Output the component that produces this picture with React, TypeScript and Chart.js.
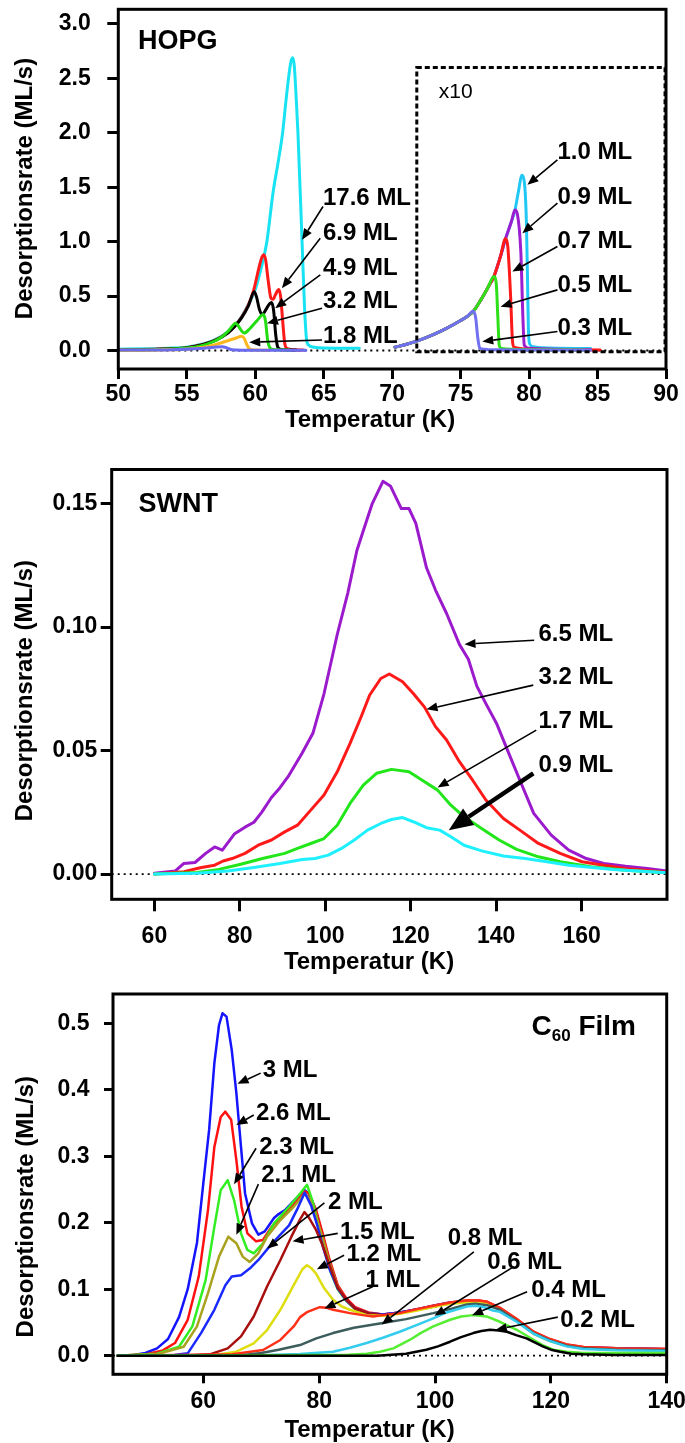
import React, { useEffect, useRef } from "react";
import { Chart, registerables } from "chart.js";

Chart.register(...registerables);

type Pt = [number, number];
const FONT = '"Liberation Sans", Arial, Helvetica, sans-serif';
const W = 685;

// ======================= Panel 1: HOPG =======================
const hopgXTicks = [50, 55, 60, 65, 70, 75, 80, 85, 90];
const hopgYTicks = [0, 0.5, 1.0, 1.5, 2.0, 2.5, 3.0];

const hopg_17_6: Pt[] = [[50, 0.012], [52, 0.015], [54, 0.022], [55, 0.03], [56, 0.055], [57, 0.095], [58, 0.17], [58.5, 0.23], [59, 0.31], [59.5, 0.42], [60, 0.56], [60.4, 0.74], [60.85, 1.0], [61.3, 1.45], [61.7, 1.75], [62.0, 2.0], [62.25, 2.3], [62.45, 2.52], [62.6, 2.65], [62.73, 2.69], [62.85, 2.62], [63.0, 2.3], [63.12, 2.0], [63.42, 1.0], [63.6, 0.4], [63.75, 0.1], [63.9, 0.05], [64.3, 0.03], [65, 0.022], [67.6, 0.02]];
const hopg_6_9: Pt[] = [[50, 0.006], [53, 0.013], [55, 0.026], [56, 0.05], [57, 0.09], [58, 0.165], [58.5, 0.225], [59, 0.305], [59.5, 0.42], [59.9, 0.56], [60.27, 0.76], [60.5, 0.86], [60.62, 0.88], [60.75, 0.84], [60.95, 0.64], [61.15, 0.48], [61.3, 0.47], [61.5, 0.52], [61.72, 0.56], [61.85, 0.5], [62.0, 0.28], [62.15, 0.07], [62.3, 0.02], [62.8, 0.006], [63.5, 0.004]];
const hopg_4_9: Pt[] = [[50, 0.005], [53, 0.012], [55, 0.025], [56, 0.048], [57, 0.088], [58, 0.16], [58.5, 0.22], [59, 0.3], [59.5, 0.41], [59.93, 0.54], [60.1, 0.49], [60.3, 0.38], [60.5, 0.33], [60.8, 0.38], [61.05, 0.43], [61.2, 0.44], [61.35, 0.36], [61.5, 0.14], [61.65, 0.03], [61.9, 0.01], [63, 0.005]];
const hopg_3_2: Pt[] = [[50, 0.004], [53, 0.01], [55, 0.022], [56, 0.042], [57, 0.085], [57.5, 0.12], [58, 0.175], [58.3, 0.22], [58.54, 0.25], [58.75, 0.23], [59.0, 0.18], [59.2, 0.16], [59.6, 0.2], [60.1, 0.27], [60.6, 0.33], [60.75, 0.27], [60.9, 0.1], [61.05, 0.03], [61.3, 0.01], [62.5, 0.005]];
const hopg_1_8: Pt[] = [[50, 0.002], [53, 0.005], [55, 0.012], [56, 0.025], [57, 0.05], [58, 0.09], [58.6, 0.115], [59.0, 0.13], [59.2, 0.11], [59.4, 0.05], [59.6, 0.012], [60, 0.004], [61, 0.002]];
const hopg_low: Pt[] = [[50, 0.004], [54, 0.008], [56, 0.018], [57, 0.03], [57.6, 0.035], [58, 0.02], [58.3, 0.006], [59, 0.003], [63.7, 0.003]];
// x10 magnified curves
const hopg_x10_1_0: Pt[] = [[70.2, 0.03], [71, 0.055], [72, 0.095], [73, 0.145], [74, 0.205], [75, 0.275], [75.5, 0.315], [75.93, 0.36], [76.5, 0.47], [77, 0.58], [77.43, 0.68], [77.9, 0.86], [78.29, 1.03], [78.7, 1.18], [78.97, 1.29], [79.25, 1.48], [79.46, 1.61], [79.65, 1.55], [79.8, 1.2], [79.88, 0.7], [79.95, 0.2], [80.05, 0.06], [80.3, 0.035], [81, 0.025], [84.5, 0.018]];
const hopg_x10_0_9: Pt[] = [[70.2, 0.03], [71, 0.055], [72, 0.095], [73, 0.145], [74, 0.205], [75, 0.275], [75.5, 0.315], [75.93, 0.36], [76.5, 0.47], [77, 0.58], [77.43, 0.68], [77.9, 0.86], [78.29, 1.03], [78.7, 1.18], [78.97, 1.29], [79.15, 1.25], [79.4, 0.9], [79.55, 0.3], [79.65, 0.05], [80, 0.02], [84.5, 0.006]];
const hopg_x10_0_7: Pt[] = [[70.2, 0.03], [71, 0.055], [72, 0.095], [73, 0.145], [74, 0.205], [75, 0.275], [75.5, 0.315], [75.93, 0.36], [76.5, 0.47], [77, 0.58], [77.43, 0.68], [77.9, 0.86], [78.29, 1.03], [78.45, 0.95], [78.65, 0.5], [78.78, 0.1], [78.9, 0.03], [80, 0.012], [85.2, 0.005]];
const hopg_x10_0_5: Pt[] = [[70.2, 0.03], [71, 0.055], [72, 0.095], [73, 0.145], [74, 0.205], [75, 0.275], [75.5, 0.315], [75.93, 0.36], [76.5, 0.47], [77, 0.58], [77.43, 0.68], [77.6, 0.62], [77.72, 0.3], [77.82, 0.05], [78, 0.018], [80, 0.008], [84, 0.005]];
const hopg_x10_0_3: Pt[] = [[70.2, 0.03], [71, 0.055], [72, 0.095], [73, 0.145], [74, 0.205], [75, 0.275], [75.5, 0.315], [75.93, 0.36], [76.1, 0.3], [76.25, 0.12], [76.4, 0.02], [77, 0.008], [80, 0.005], [84.5, 0.005]];

// ======================= Panel 2: SWNT =======================
const swntXTicks = [60, 80, 100, 120, 140, 160];
const swntYTicks = [0, 0.05, 0.1, 0.15];

const swnt_6_5: Pt[] = [[60, 0.0003], [64.9, 0.0013], [66.9, 0.0043], [69.5, 0.0047], [72, 0.0084], [74.1, 0.011], [75.9, 0.0097], [78.7, 0.0162], [81.2, 0.019], [83.3, 0.021], [85.1, 0.025], [87.4, 0.031], [89.4, 0.035], [91.5, 0.04], [94.6, 0.049], [97.1, 0.057], [99.7, 0.073], [102.8, 0.097], [105.3, 0.114], [107.4, 0.131], [108.9, 0.139], [111, 0.15], [113.5, 0.159], [115.3, 0.157], [117.8, 0.148], [119.6, 0.148], [121.2, 0.142], [123.7, 0.124], [125.8, 0.115], [128.4, 0.1055], [131.4, 0.093], [133.5, 0.087], [135.5, 0.076], [137.6, 0.069], [140.1, 0.061], [142.7, 0.05], [145.8, 0.037], [148.8, 0.0246], [152.9, 0.0158], [157, 0.0097], [161.1, 0.0063], [165.2, 0.0043], [170.3, 0.0032], [175.4, 0.0023], [180, 0.0013]];
const swnt_3_2: Pt[] = [[60, 0], [66.9, 0.001], [71, 0.0027], [74.1, 0.0036], [76.1, 0.0053], [78.2, 0.0063], [81.2, 0.0084], [84.3, 0.0117], [87.4, 0.0138], [90.5, 0.0171], [93.5, 0.0198], [96.6, 0.0259], [99.7, 0.032], [102.8, 0.0414], [105.8, 0.0529], [108.4, 0.0637], [110.4, 0.0725], [113, 0.0792], [115, 0.081], [118.1, 0.0779], [120.6, 0.0731], [123.2, 0.0677], [125.8, 0.0597], [128.4, 0.0543], [131.4, 0.0455], [134.5, 0.038], [137.6, 0.03], [141.7, 0.0225], [145.8, 0.0175], [149.9, 0.0124], [155, 0.0084], [160.1, 0.005], [165.2, 0.0036], [170.3, 0.0023], [180, 0.0007]];
const swnt_1_7: Pt[] = [[60, 0], [70, 0.0007], [75.1, 0.0019], [80.2, 0.004], [85.3, 0.0063], [90.5, 0.0084], [93.5, 0.0104], [96.6, 0.0124], [99.7, 0.0144], [102.8, 0.0198], [105.8, 0.0286], [108.9, 0.036], [112, 0.0408], [115.5, 0.0424], [119.6, 0.0414], [122.7, 0.038], [126.3, 0.034], [129.4, 0.0279], [132.5, 0.0232], [136.6, 0.0185], [140.7, 0.0138], [144.8, 0.01], [149.9, 0.007], [155, 0.005], [162.2, 0.003], [170.3, 0.0016], [180, 0.0005]];
const swnt_0_9: Pt[] = [[60, 0], [70, 0.0003], [77.2, 0.0013], [83.3, 0.0027], [89.4, 0.0043], [94.6, 0.0059], [97.6, 0.0063], [100.7, 0.0077], [103.8, 0.0104], [106.8, 0.0138], [109.9, 0.0178], [113, 0.0205], [115.5, 0.0221], [118.1, 0.0229], [120.6, 0.0212], [123.7, 0.0188], [126.8, 0.0178], [129.4, 0.0151], [132.5, 0.0117], [136.6, 0.0094], [141.7, 0.0073], [146.8, 0.0063], [151.9, 0.005], [157, 0.0036], [167.3, 0.0019], [180, 0.0005]];

// ======================= Panel 3: C60 film =======================
const c60XTicks = [60, 80, 100, 120, 140];
const c60YTicks = [0, 0.1, 0.2, 0.3, 0.4, 0.5];

const c60_3_0: Pt[] = [[45.2, 0], [48, 0.001], [50, 0.004], [52, 0.011], [53.9, 0.025], [55.8, 0.058], [57.3, 0.1], [58.9, 0.17], [60, 0.26], [61, 0.34], [61.9, 0.44], [62.7, 0.497], [63.3, 0.515], [64, 0.51], [64.9, 0.46], [65.7, 0.395], [66.5, 0.314], [67.2, 0.244], [68.4, 0.199], [69.5, 0.182], [70.6, 0.187], [72.2, 0.207], [73, 0.213], [74.1, 0.219], [75.2, 0.229], [76.3, 0.239], [77.5, 0.249], [78.2, 0.244], [79.4, 0.219], [80.5, 0.184], [81.7, 0.144], [83.2, 0.104], [84.7, 0.084], [86.2, 0.071], [88.5, 0.064], [91, 0.062], [93.9, 0.065], [96.9, 0.069], [99.7, 0.074], [102.6, 0.079], [105.5, 0.082], [107.5, 0.082], [109, 0.08], [111.2, 0.071], [114.1, 0.054], [117, 0.035], [119.8, 0.024], [122.7, 0.016], [125.6, 0.012], [131.3, 0.011], [140, 0.0095]];
const c60_2_6: Pt[] = [[45.2, 0], [50, 0.002], [53, 0.008], [55.1, 0.019], [57.3, 0.054], [59.2, 0.119], [60.8, 0.219], [61.9, 0.314], [63, 0.359], [63.8, 0.367], [64.8, 0.355], [65.7, 0.294], [66.6, 0.224], [67.6, 0.184], [69.1, 0.172], [70.3, 0.174], [71.8, 0.194], [73, 0.205], [74.1, 0.214], [76.3, 0.234], [77.5, 0.247], [78.2, 0.244], [79.4, 0.221], [80.5, 0.187], [81.7, 0.147], [83.2, 0.106], [84.7, 0.086], [86.2, 0.073], [88.5, 0.065], [91, 0.062], [93.9, 0.065], [96.9, 0.07], [99.7, 0.075], [102.6, 0.08], [105.5, 0.083], [107.5, 0.083], [109, 0.081], [111.2, 0.072], [114.1, 0.055], [117, 0.036], [119.8, 0.025], [122.7, 0.017], [125.6, 0.013], [131.3, 0.011], [140, 0.01]];
const c60_2_3: Pt[] = [[45.2, 0], [52, 0.003], [55.8, 0.0135], [58.1, 0.044], [60.4, 0.114], [61.9, 0.194], [63, 0.249], [64.2, 0.264], [65.3, 0.234], [66.5, 0.184], [67.6, 0.159], [68.7, 0.154], [70.3, 0.169], [72.2, 0.199], [74.8, 0.224], [76.7, 0.244], [77.9, 0.257], [78.8, 0.234], [79.8, 0.2], [80.9, 0.16], [82, 0.125], [83.2, 0.1], [84.7, 0.082], [86.2, 0.07], [88.5, 0.063], [91, 0.061], [93.9, 0.064], [96.9, 0.069], [99.7, 0.074], [102.6, 0.079], [105.5, 0.081], [107.5, 0.081], [109, 0.079], [111.2, 0.07], [114.1, 0.053], [117, 0.034], [119.8, 0.023], [122.7, 0.015], [125.6, 0.011], [131.3, 0.01], [140, 0.008]];
const c60_2_1: Pt[] = [[45.2, 0], [52, 0.002], [56.6, 0.0135], [58.9, 0.044], [60.8, 0.094], [62.7, 0.149], [64.3, 0.179], [65.7, 0.169], [66.8, 0.149], [68, 0.141], [69.5, 0.154], [71, 0.179], [73.3, 0.204], [75.6, 0.224], [77.5, 0.244], [78.4, 0.235], [79.4, 0.21], [80.5, 0.18], [81.7, 0.142], [83.2, 0.103], [84.7, 0.083], [86.2, 0.07], [88.5, 0.063], [91, 0.061], [93.9, 0.064], [96.9, 0.069], [99.7, 0.074], [102.6, 0.079], [105.5, 0.081], [107.5, 0.081], [109, 0.079], [111.2, 0.07], [114.1, 0.053], [117, 0.034], [119.8, 0.023], [122.7, 0.015], [125.6, 0.011], [131.3, 0.01], [140, 0.008]];
const c60_2_0: Pt[] = [[45.2, 0], [55, 0.001], [57.3, 0.0035], [59.6, 0.034], [61.9, 0.069], [63.8, 0.106], [64.9, 0.119], [66.5, 0.121], [68, 0.131], [69.5, 0.144], [71.4, 0.164], [73.3, 0.182], [74.8, 0.196], [76.3, 0.222], [77.5, 0.245], [78.6, 0.226], [79.6, 0.198], [80.7, 0.162], [81.8, 0.13], [83.2, 0.101], [84.7, 0.083], [86.2, 0.071], [88.5, 0.064], [91, 0.062], [93.9, 0.065], [96.9, 0.07], [99.7, 0.075], [102.6, 0.08], [105.5, 0.082], [107.5, 0.082], [109, 0.08], [111.2, 0.071], [114.1, 0.054], [117, 0.035], [119.8, 0.024], [122.7, 0.016], [125.6, 0.012], [131.3, 0.011], [140, 0.0095]];
const c60_1_5: Pt[] = [[45.2, 0], [58, 0.0005], [61.1, 0.002], [64.2, 0.011], [66.5, 0.029], [68.7, 0.059], [71, 0.104], [73.3, 0.144], [75.2, 0.179], [76.7, 0.205], [77.45, 0.216], [78.2, 0.208], [79.4, 0.19], [80.5, 0.168], [81.7, 0.138], [83.2, 0.102], [84.7, 0.084], [86.2, 0.071], [88.5, 0.064], [91, 0.061], [93.9, 0.064], [96.9, 0.069], [99.7, 0.074], [102.6, 0.079], [105.5, 0.082], [107.5, 0.082], [109, 0.08], [111.2, 0.071], [114.1, 0.054], [117, 0.035], [119.8, 0.024], [122.7, 0.016], [125.6, 0.012], [131.3, 0.01], [140, 0.009]];
const c60_1_2: Pt[] = [[45.2, 0], [62, 0.001], [65.7, 0.006], [68.7, 0.0186], [71, 0.0386], [73.3, 0.069], [75.6, 0.106], [77.1, 0.13], [77.9, 0.136], [78.6, 0.132], [79.4, 0.124], [80.9, 0.101], [82.4, 0.084], [83.9, 0.074], [85.3, 0.069], [88.2, 0.061], [91, 0.06], [93.9, 0.063], [96.9, 0.068], [99.7, 0.073], [102.6, 0.078], [105.5, 0.08], [107.5, 0.08], [109, 0.078], [111.2, 0.069], [114.1, 0.052], [117, 0.033], [119.8, 0.022], [122.7, 0.015], [125.6, 0.011], [131.3, 0.01], [140, 0.008]];
const c60_1_0: Pt[] = [[45.2, 0], [65, 0.002], [70.3, 0.0085], [73.3, 0.0236], [75.6, 0.044], [76.7, 0.058], [78, 0.066], [80.1, 0.073], [81.3, 0.072], [82.4, 0.069], [85.3, 0.064], [87.5, 0.061], [89.3, 0.059], [91, 0.061], [93.9, 0.064], [96.9, 0.07], [99.7, 0.075], [102.6, 0.08], [105.5, 0.083], [107.5, 0.083], [109, 0.081], [111.2, 0.072], [114.1, 0.055], [117, 0.036], [119.8, 0.025], [122.7, 0.017], [125.6, 0.013], [131.3, 0.011], [140, 0.01]];
const c60_0_8: Pt[] = [[45.2, 0], [62, 0.0005], [67, 0.001], [70, 0.004], [73, 0.009], [76.7, 0.016], [79.5, 0.026], [82.4, 0.034], [86, 0.042], [91, 0.049], [95, 0.055], [99.7, 0.064], [103, 0.071], [105.5, 0.077], [107, 0.078], [109, 0.076], [111.2, 0.069], [114.1, 0.052], [117, 0.034], [119.8, 0.023], [122.7, 0.015], [125.6, 0.011], [131.3, 0.009], [140, 0.008]];
const c60_0_6: Pt[] = [[45.2, 0], [70, 0.0005], [76.7, 0.0026], [82.4, 0.006], [85.3, 0.012], [88.2, 0.019], [91, 0.027], [93.9, 0.036], [96.8, 0.046], [99.7, 0.056], [102, 0.065], [104.3, 0.071], [105.5, 0.074], [107, 0.075], [108.5, 0.073], [110, 0.068], [111.2, 0.066], [114.1, 0.051], [117, 0.033], [119.8, 0.022], [122.7, 0.014], [125.6, 0.01], [131.3, 0.008], [140, 0.007]];
const c60_0_4: Pt[] = [[45.2, 0], [80, 0.001], [85, 0.0015], [88.2, 0.003], [90.5, 0.006], [92.8, 0.011], [95.7, 0.024], [97.5, 0.034], [99.7, 0.044], [102.6, 0.054], [104.5, 0.059], [106.6, 0.061], [108.9, 0.059], [111.2, 0.051], [114.1, 0.039], [117, 0.024], [118.8, 0.015], [120.4, 0.009], [122.7, 0.006], [125.6, 0.004], [131.3, 0.004], [140, 0.004]];
const c60_0_2: Pt[] = [[45.2, 0], [90, 0], [95, 0.003], [98.5, 0.009], [100.5, 0.014], [102.6, 0.021], [104.5, 0.028], [106.6, 0.034], [108, 0.037], [109.5, 0.039], [111, 0.038], [112.4, 0.036], [114, 0.031], [115.8, 0.026], [117.2, 0.02], [118.7, 0.0135], [120, 0.009], [121.6, 0.006], [123.5, 0.003], [125.6, 0.002], [131, 0.001], [140, 0.001]];

// ======================= helpers =======================
type Series = { label: string; data: Pt[]; color: string };
type Label = { text: string; at: Pt; size?: number; weight?: string; align?: CanvasTextAlign };
type Arrow = { from: Pt; to: Pt; lw?: number; head?: number; half?: number };

interface Panel {
  top: number;
  h: number;
  area: { left: number; top: number; right: number; bottom: number };
  x: [number, number];
  y: [number, number];
  xTicks: number[];
  yTicks: number[];
  yDec: number;
  xTick: { len: number; pad: number };
  yTick: { len: number; pad: number };
  xTitleAt: [number, number];
  yTitleAt: [number, number];
  lineWidth: number;
  smooth: boolean;
  series: Series[];
  labels: Label[];
  arrows: Arrow[];
  dashedBox?: [Pt, Pt];
  subTitle?: { main: string; sub: string; rest: string; at: Pt };
}

const panels: Panel[] = [
  {
    top: 0,
    h: 445,
    area: { left: 118.3, top: 9.3, right: 666, bottom: 369 },
    x: [50, 90],
    y: [-0.17, 3.135],
    xTicks: hopgXTicks,
    yTicks: hopgYTicks,
    yDec: 1,
    xTick: { len: 10, pad: 4.5 },
    yTick: { len: 11, pad: 16.6 },
    xTitleAt: [370, 418],
    yTitleAt: [26, 188.5],
    lineWidth: 3,
    smooth: true,
    series: [
      { label: "17.6 ML", data: hopg_17_6, color: "#17e3f2" },
      { label: "6.9 ML", data: hopg_6_9, color: "#ff1a1a" },
      { label: "4.9 ML", data: hopg_4_9, color: "#000000" },
      { label: "3.2 ML", data: hopg_3_2, color: "#22dd11" },
      { label: "1.8 ML", data: hopg_1_8, color: "#ffb81c" },
      { label: "0.3 ML (x1)", data: hopg_low, color: "#6b6bf0" },
      { label: "1.0 ML x10", data: hopg_x10_1_0, color: "#22c8f5" },
      { label: "0.9 ML x10", data: hopg_x10_0_9, color: "#9b1fd1" },
      { label: "0.7 ML x10", data: hopg_x10_0_7, color: "#ff1a1a" },
      { label: "0.5 ML x10", data: hopg_x10_0_5, color: "#2ee01a" },
      { label: "0.3 ML x10", data: hopg_x10_0_3, color: "#7070f0" },
    ],
    labels: [
      { text: "HOPG", at: [51.44, 2.855], size: 27 },
      { text: "x10", at: [73.41, 2.389], size: 21, weight: "normal" },
      { text: "17.6 ML", at: [64.95, 1.414] },
      { text: "6.9 ML", at: [64.95, 1.093] },
      { text: "4.9 ML", at: [64.95, 0.771] },
      { text: "3.2 ML", at: [64.95, 0.465] },
      { text: "1.8 ML", at: [64.95, 0.15] },
      { text: "1.0 ML", at: [82.07, 1.837] },
      { text: "0.9 ML", at: [82.07, 1.421] },
      { text: "0.7 ML", at: [82.07, 1.017] },
      { text: "0.5 ML", at: [82.07, 0.612] },
      { text: "0.3 ML", at: [82.07, 0.22] },
    ],
    arrows: [
      { from: [64.95, 1.323], to: [63.42, 1.017] },
      { from: [64.75, 1.032], to: [61.95, 0.573] },
      { from: [64.75, 0.695], to: [61.46, 0.389] },
      { from: [64.88, 0.389], to: [60.86, 0.251] },
      { from: [64.88, 0.097], to: [59.56, 0.076] },
      { from: [82.07, 1.752], to: [79.88, 1.522] },
      { from: [82.07, 1.354], to: [79.51, 1.078] },
      { from: [82.07, 0.955], to: [78.78, 0.725] },
      { from: [82.07, 0.557], to: [77.92, 0.403] },
      { from: [82.07, 0.174], to: [76.58, 0.082] },
    ],
    dashedBox: [[71.8, -0.012], [89.93, 2.6]],
  },
  {
    top: 445,
    h: 530,
    area: { left: 111.7, top: 24.5, right: 667, bottom: 454.3 },
    x: [50, 180],
    y: [-0.0102, 0.1638],
    xTicks: swntXTicks,
    yTicks: swntYTicks,
    yDec: 2,
    xTick: { len: 12, pad: 13.9 },
    yTick: { len: 11, pad: 3.4 },
    xTitleAt: [369, 515],
    yTitleAt: [26, 245.6],
    lineWidth: 3,
    smooth: false,
    series: [
      { label: "6.5 ML", data: swnt_6_5, color: "#9b1acc" },
      { label: "3.2 ML", data: swnt_3_2, color: "#ff1a1a" },
      { label: "1.7 ML", data: swnt_1_7, color: "#22e61a" },
      { label: "0.9 ML", data: swnt_0_9, color: "#1ef0ff" },
    ],
    labels: [
      { text: "SWNT", at: [56.26, 0.1505], size: 27 },
      { text: "6.5 ML", at: [149.9, 0.0977] },
      { text: "3.2 ML", at: [149.9, 0.0806] },
      { text: "1.7 ML", at: [149.9, 0.0626] },
      { text: "0.9 ML", at: [149.9, 0.0448] },
    ],
    arrows: [
      { from: [148.9, 0.0947], to: [132.6, 0.0931] },
      { from: [148.7, 0.0765], to: [123.7, 0.0667] },
      { from: [149.4, 0.0583], to: [126.3, 0.0351] },
      { from: [148.7, 0.0408], to: [128.9, 0.0178], lw: 4.5, head: 24, half: 10 },
    ],
  },
  {
    top: 975,
    h: 468,
    area: { left: 113, top: 19, right: 666.7, bottom: 399.3 },
    x: [44.4, 140],
    y: [-0.028, 0.544],
    xTicks: c60XTicks,
    yTicks: c60YTicks,
    yDec: 1,
    xTick: { len: 9, pad: 6.9 },
    yTick: { len: 9, pad: 14.5 },
    xTitleAt: [369.5, 453],
    yTitleAt: [27, 231.7],
    lineWidth: 2.5,
    smooth: false,
    series: [
      { label: "0.2 ML", data: c60_0_2, color: "#000000" },
      { label: "0.4 ML", data: c60_0_4, color: "#55ee33" },
      { label: "0.6 ML", data: c60_0_6, color: "#33ccee" },
      { label: "0.8 ML", data: c60_0_8, color: "#3d5c5c" },
      { label: "1 ML", data: c60_1_0, color: "#ff3018" },
      { label: "1.2 ML", data: c60_1_2, color: "#dddd10" },
      { label: "1.5 ML", data: c60_1_5, color: "#a81010" },
      { label: "2 ML", data: c60_2_0, color: "#1a2aff" },
      { label: "2.1 ML", data: c60_2_1, color: "#a8a21e" },
      { label: "2.3 ML", data: c60_2_3, color: "#33ee22" },
      { label: "2.6 ML", data: c60_2_6, color: "#ff1111" },
      { label: "3 ML", data: c60_3_0, color: "#1414ff" },
    ].reverse(),
    labels: [
      { text: "3 ML", at: [70.26, 0.432] },
      { text: "2.6 ML", at: [69.1, 0.367] },
      { text: "2.3 ML", at: [69.65, 0.316] },
      { text: "2.1 ML", at: [70.0, 0.274] },
      { text: "2 ML", at: [81.5, 0.233] },
      { text: "1.5 ML", at: [83.6, 0.189] },
      { text: "1.2 ML", at: [84.7, 0.156] },
      { text: "1 ML", at: [88.0, 0.116] },
      { text: "0.8 ML", at: [102.2, 0.179] },
      { text: "0.6 ML", at: [109, 0.144] },
      { text: "0.4 ML", at: [116.6, 0.101] },
      { text: "0.2 ML", at: [121.6, 0.056] },
    ],
    arrows: [
      { from: [69.9, 0.425], to: [65.9, 0.409] },
      { from: [68.7, 0.362], to: [65.7, 0.347] },
      { from: [69.1, 0.312], to: [65.3, 0.258] },
      { from: [69.5, 0.258], to: [65.7, 0.182] },
      { from: [80.9, 0.23], to: [71.0, 0.161] },
      { from: [83.2, 0.184], to: [75.4, 0.172] },
      { from: [84.3, 0.151], to: [79.6, 0.13] },
      { from: [89.3, 0.104], to: [80.9, 0.071] },
      { from: [106.7, 0.156], to: [90.8, 0.047] },
      { from: [113.6, 0.134], to: [99.9, 0.06] },
      { from: [115.9, 0.096], to: [106.4, 0.061] },
      { from: [121.2, 0.058], to: [110.5, 0.039] },
    ],
    subTitle: { main: "C", sub: "60", rest: " Film", at: [134.7, 0.497] },
  },
];

function drawArrow(ctx: CanvasRenderingContext2D, x1: number, y1: number, x2: number, y2: number, lw: number, hl: number, hw: number) {
  const a = Math.atan2(y2 - y1, x2 - x1);
  const bx = x2 - hl * Math.cos(a);
  const by = y2 - hl * Math.sin(a);
  ctx.lineWidth = lw;
  ctx.beginPath();
  ctx.moveTo(x1, y1);
  ctx.lineTo(bx, by);
  ctx.stroke();
  ctx.beginPath();
  ctx.moveTo(x2, y2);
  ctx.lineTo(bx + hw * Math.sin(a), by - hw * Math.cos(a));
  ctx.lineTo(bx - hw * Math.sin(a), by + hw * Math.cos(a));
  ctx.closePath();
  ctx.fill();
}

function makeDecor(p: Panel, idx: number) {
  return {
    id: "decor" + idx,
    afterDraw(chart: any) {
      const ctx: CanvasRenderingContext2D = chart.ctx;
      const xs = chart.scales.x;
      const ys = chart.scales.y;
      const px = (v: number) => xs.getPixelForValue(v);
      const py = (v: number) => ys.getPixelForValue(v);
      const ca = chart.chartArea;
      ctx.save();
      ctx.strokeStyle = "#000";
      ctx.fillStyle = "#000";

      if (p.dashedBox) {
        const [a, b] = p.dashedBox;
        ctx.lineWidth = 3;
        ctx.setLineDash([5, 3]);
        ctx.strokeRect(px(a[0]), py(b[1]), px(b[0]) - px(a[0]), py(a[1]) - py(b[1]));
        ctx.setLineDash([]);
      }

      // frame
      ctx.lineWidth = 3;
      ctx.setLineDash([]);
      ctx.strokeRect(ca.left, ca.top, ca.right - ca.left, ca.bottom - ca.top);

      // arrows
      for (const ar of p.arrows) {
        drawArrow(ctx, px(ar.from[0]), py(ar.from[1]), px(ar.to[0]), py(ar.to[1]), ar.lw ?? 1.6, ar.head ?? 11, ar.half ?? 4.5);
      }

      // labels
      for (const lb of p.labels) {
        const size = lb.size ?? 24;
        ctx.font = `${lb.weight ?? "bold"} ${size}px ${FONT}`;
        ctx.textAlign = lb.align ?? "left";
        ctx.textBaseline = "alphabetic";
        ctx.fillText(lb.text, px(lb.at[0]), py(lb.at[1]) + 0.358 * size);
      }

      if (p.subTitle) {
        const big = 28;
        const small = 17;
        ctx.textAlign = "left";
        ctx.textBaseline = "alphabetic";
        ctx.font = `bold ${big}px ${FONT}`;
        const wC = ctx.measureText(p.subTitle.main).width;
        const wR = ctx.measureText(p.subTitle.rest).width;
        ctx.font = `bold ${small}px ${FONT}`;
        const wS = ctx.measureText(p.subTitle.sub).width;
        const right = px(p.subTitle.at[0]);
        const base = py(p.subTitle.at[1]) + 0.358 * big;
        const x0 = right - (wC + wS + wR);
        ctx.font = `bold ${big}px ${FONT}`;
        ctx.fillText(p.subTitle.main, x0, base);
        ctx.font = `bold ${small}px ${FONT}`;
        ctx.fillText(p.subTitle.sub, x0 + wC, base + 6);
        ctx.font = `bold ${big}px ${FONT}`;
        ctx.fillText(p.subTitle.rest, x0 + wC + wS, base);
      }

      // axis titles
      ctx.font = `bold 24px ${FONT}`;
      ctx.textAlign = "center";
      ctx.textBaseline = "alphabetic";
      ctx.fillText("Temperatur (K)", p.xTitleAt[0], p.xTitleAt[1] + 0.358 * 24);
      ctx.translate(p.yTitleAt[0] + 0.26 * 24, p.yTitleAt[1]);
      ctx.rotate(-Math.PI / 2);
      ctx.fillText("Desorptionsrate (ML/s)", 0, 0);
      ctx.restore();
    },
  };
}

function buildConfig(p: Panel, idx: number): any {
  const tickFont = { family: FONT, size: 23, weight: "bold" as const, lineHeight: 1 };
  const datasets: any[] = p.series
    .slice()
    .reverse()
    .map((s) => ({
      label: s.label,
      data: s.data.map(([x, y]) => ({ x, y })),
      borderColor: s.color,
      backgroundColor: s.color,
      borderWidth: p.lineWidth,
      pointRadius: 0,
      fill: false,
      tension: 0,
      cubicInterpolationMode: p.smooth ? "monotone" : "default",
      borderJoinStyle: "round",
      borderCapStyle: "round",
    }));
  datasets.push({
    label: "zero",
    data: [{ x: p.x[0], y: 0 }, { x: p.x[1], y: 0 }],
    borderColor: "#000",
    borderWidth: 1.8,
    borderDash: [2, 4],
    pointRadius: 0,
    fill: false,
    order: 100,
  });
  return {
    type: "line",
    data: { datasets },
    options: {
      responsive: false,
      maintainAspectRatio: false,
      animation: false,
      devicePixelRatio: 1,
      events: [],
      layout: { padding: { left: 0, top: p.area.top, right: W - p.area.right, bottom: 0 } },
      plugins: { legend: { display: false }, tooltip: { enabled: false }, title: { display: false } },
      scales: {
        x: {
          type: "linear",
          min: p.x[0],
          max: p.x[1],
          afterBuildTicks: (ax: any) => {
            ax.ticks = p.xTicks.map((v) => ({ value: v }));
          },
          afterFit: (ax: any) => {
            ax.height = p.h - p.area.bottom;
            ax.paddingLeft = 0;
            ax.paddingRight = 0;
          },
          grid: { display: true, drawOnChartArea: false, drawTicks: true, tickLength: p.xTick.len, tickWidth: 3, tickColor: "#000" },
          border: { display: false },
          ticks: { autoSkip: false, maxRotation: 0, minRotation: 0, padding: p.xTick.pad, color: "#000", font: tickFont, callback: (v: number) => String(v) },
        },
        y: {
          type: "linear",
          min: p.y[0],
          max: p.y[1],
          afterBuildTicks: (ax: any) => {
            ax.ticks = p.yTicks.map((v) => ({ value: v }));
          },
          afterFit: (ax: any) => {
            ax.width = p.area.left;
            ax.paddingTop = 0;
            ax.paddingBottom = 0;
          },
          grid: { display: true, drawOnChartArea: false, drawTicks: true, tickLength: p.yTick.len, tickWidth: 3, tickColor: "#000" },
          border: { display: false },
          ticks: { autoSkip: false, padding: p.yTick.pad, color: "#000", font: tickFont, callback: (v: number) => Number(v).toFixed(p.yDec) },
        },
      },
    },
    plugins: [makeDecor(p, idx)],
  };
}

function PanelChart({ p, idx }: { p: Panel; idx: number }) {
  const ref = useRef<HTMLCanvasElement>(null);
  useEffect(() => {
    const chart = new Chart(ref.current as HTMLCanvasElement, buildConfig(p, idx));
    return () => chart.destroy();
  }, []);
  return (
    <canvas
      ref={ref}
      width={W}
      height={p.h}
      style={{ position: "absolute", left: 0, top: p.top, width: W, height: p.h, display: "block" }}
    />
  );
}

export default function App() {
  return (
    <div style={{ position: "absolute", left: 0, top: 0, width: W, height: 1443, background: "#fff", overflow: "hidden" }}>
      {panels.map((p, i) => (
        <PanelChart key={i} p={p} idx={i} />
      ))}
    </div>
  );
}
